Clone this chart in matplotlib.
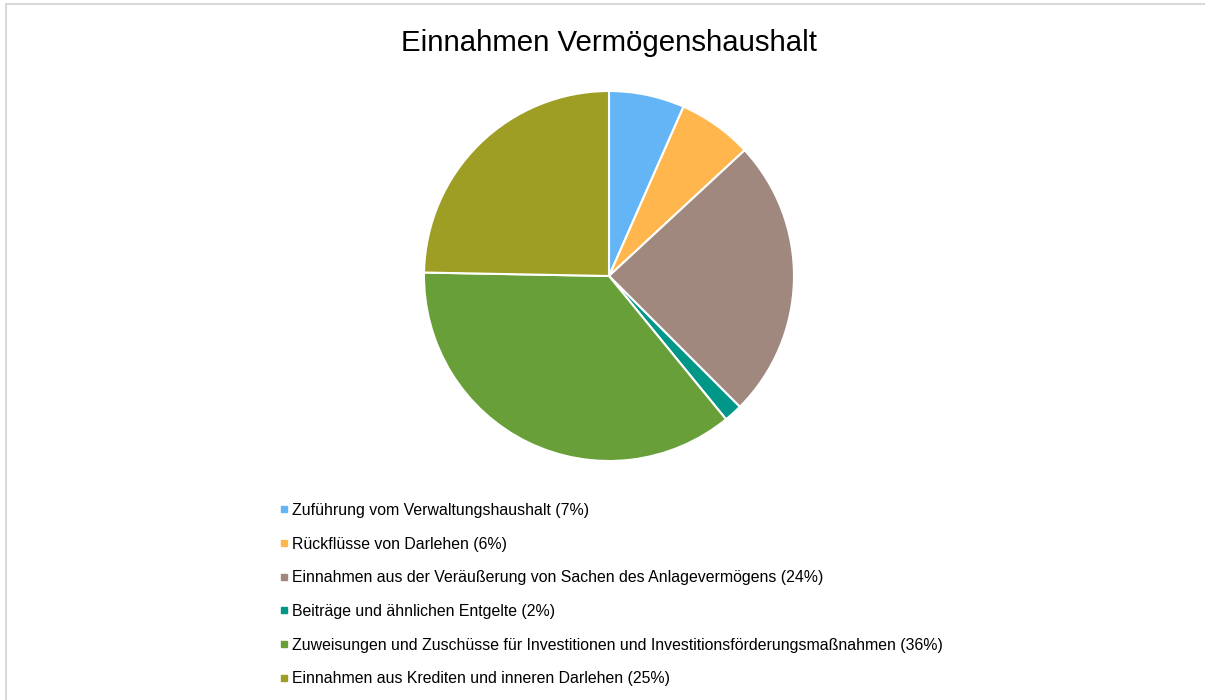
import matplotlib
matplotlib.use("Agg")
from matplotlib import pyplot as plt
from matplotlib.lines import Line2D
from matplotlib.patches import Rectangle

plt.rcParams['font.family'] = ['Liberation Sans', 'DejaVu Sans']

labels = [
    'Zuführung vom Verwaltungshaushalt',
    'Rückflüsse von Darlehen',
    'Einnahmen aus der Veräußerung von Sachen des Anlagevermögens',
    'Beiträge und ähnlichen Entgelte',
    'Zuweisungen und Zuschüsse für Investitionen und Investitionsförderungsmaßnahmen',
    'Einnahmen aus Krediten und inneren Darlehen',
]
shares = [6.6, 6.5, 24.4, 1.6, 36.2, 24.7]
pct_labels = [7, 6, 24, 2, 36, 25]
colors = ['#64B5F6', '#FFB74D', '#A1887F', '#009688', '#689F38', '#9E9D24']

W, H = 1205, 700
fig = plt.figure(figsize=(W / 100, H / 100), dpi=100)

# light grey chart frame (only top and left visible in the crop)
fig.patches.append(Rectangle((6 / W, -0.1), 1.2, (H - 4) / H + 0.1,
                             transform=fig.transFigure, fill=False,
                             edgecolor='#d9d9d9', linewidth=1.5))

fig.text(609 / W, 1 - 43 / H, 'Einnahmen Vermögenshaushalt',
         ha='center', va='center', fontsize=21.2, color='#000000')

# pie axes: centre (609, 276), radius 185 px
r = 185
ax = fig.add_axes([(609 - r) / W, (H - 276 - r) / H, 2 * r / W, 2 * r / H])
ax.pie(shares, colors=colors, startangle=90, counterclock=False,
       wedgeprops=dict(edgecolor='white', linewidth=1.5))
ax.set_aspect('equal')
ax.set_xlim(-1, 1)
ax.set_ylim(-1, 1)
ax.axis('off')

# legend
handles = [Line2D([], [], marker='s', linestyle='none', markersize=4.5,
                  markerfacecolor=c, markeredgecolor=c) for c in colors]
texts = [f'{l} ({p}%)' for l, p in zip(labels, pct_labels)]
fig.legend(handles, texts, loc='upper left',
           bbox_to_anchor=(272 / W, 1 - 495 / H),
           frameon=False, fontsize=11.4, handlelength=0.5,
           handletextpad=0.25, labelspacing=1.18, borderpad=0)

fig.savefig('out.png', dpi=100)
